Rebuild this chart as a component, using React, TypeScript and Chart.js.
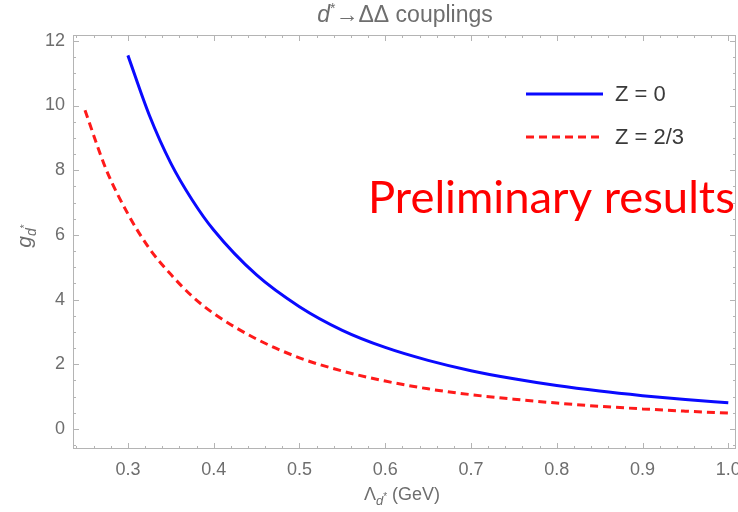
import React, { useEffect, useRef } from "react";
import { Chart, registerables } from "chart.js";

Chart.register(...registerables);

// ---- data ----
const blueX = [0.3, 0.325, 0.35, 0.375, 0.4, 0.45, 0.5, 0.55, 0.6, 0.65, 0.7, 0.75, 0.8, 0.85, 0.9, 0.95, 1.0];
const blueY = [11.55, 9.7, 8.22, 7.08, 6.15, 4.76, 3.78, 3.05, 2.52, 2.12, 1.8, 1.55, 1.34, 1.17, 1.03, 0.91, 0.81];
const redX = [0.25, 0.275, 0.3, 0.325, 0.35, 0.375, 0.4, 0.45, 0.5, 0.55, 0.6, 0.65, 0.7, 0.75, 0.8, 0.85, 0.9, 0.95, 1.0];
const redY = [9.85, 8.0, 6.65, 5.58, 4.78, 4.1, 3.57, 2.78, 2.2, 1.79, 1.48, 1.24, 1.06, 0.92, 0.8, 0.7, 0.62, 0.55, 0.49];
const xTicks = [0.3, 0.4, 0.5, 0.6, 0.7, 0.8, 0.9, 1.0];
const yTicks = [0, 2, 4, 6, 8, 10, 12];
const seriesLabels = ["Z = 0", "Z = 2/3"];
const titleParts = ["d", "*", "\u2192\u0394\u0394 couplings"];
const xTitleParts = ["\u039B", "d", "*", " (GeV)"];
const yTitleParts = ["g", "d", "*"];
const stampText = "Preliminary results";

const FRAME = "#b4b4b4";
const TXT = "#6e6e6e";
const FONT = "'Liberation Sans', Arial, sans-serif";

type Seg = { t: string; size: number; dy: number; italic?: boolean };

function drawRich(ctx: CanvasRenderingContext2D, segs: Seg[], cx: number, cy: number, color: string) {
  let total = 0;
  for (const s of segs) {
    ctx.font = `${s.italic ? "italic " : ""}${s.size}px ${FONT}`;
    total += ctx.measureText(s.t).width;
  }
  let x = cx - total / 2;
  ctx.fillStyle = color;
  ctx.textBaseline = "alphabetic";
  ctx.textAlign = "left";
  for (const s of segs) {
    ctx.font = `${s.italic ? "italic " : ""}${s.size}px ${FONT}`;
    ctx.fillText(s.t, x, cy + s.dy);
    x += ctx.measureText(s.t).width;
  }
}

const decorPlugin = {
  id: "decor",
  beforeDatasetsDraw(chart: any) {
    const { ctx, chartArea: a, scales } = chart;
    const xs = scales.x;
    const ys = scales.y;
    ctx.save();
    ctx.strokeStyle = FRAME;
    ctx.lineWidth = 1;
    ctx.strokeRect(a.left + 0.5, a.top + 0.5, a.right - a.left - 1, a.bottom - a.top - 1);
    ctx.beginPath();
    // x ticks (bottom & top), minor every 0.02
    for (let i = 12; i <= 51; i++) {
      const v = i / 50;
      const px = Math.round(xs.getPixelForValue(v)) + 0.5;
      if (px < a.left || px > a.right) continue;
      const major = i % 5 === 0;
      const len = major ? 6 : 3;
      ctx.moveTo(px, a.bottom);
      ctx.lineTo(px, a.bottom - len);
      ctx.moveTo(px, a.top);
      ctx.lineTo(px, a.top + len);
    }
    // y ticks (left & right), minor every 0.5
    for (let i = -1; i <= 24; i++) {
      const v = i / 2;
      const py = Math.round(ys.getPixelForValue(v)) + 0.5;
      if (py < a.top || py > a.bottom) continue;
      const major = i % 4 === 0;
      const len = major ? 6 : 3;
      ctx.moveTo(a.left, py);
      ctx.lineTo(a.left + len, py);
      ctx.moveTo(a.right, py);
      ctx.lineTo(a.right - len, py);
    }
    ctx.stroke();
    ctx.restore();
  },
  afterDraw(chart: any) {
    const { ctx } = chart;
    ctx.save();
    // title
    drawRich(
      ctx,
      [
        { t: titleParts[0], size: 23, dy: 0, italic: true },
        { t: titleParts[1], size: 14, dy: -9 },
        { t: titleParts[2], size: 23, dy: 0 },
      ],
      405,
      22,
      TXT
    );
    // x title
    drawRich(
      ctx,
      [
        { t: xTitleParts[0], size: 18, dy: 0 },
        { t: xTitleParts[1], size: 13, dy: 5, italic: true },
        { t: xTitleParts[2], size: 10, dy: 0 },
        { t: xTitleParts[3], size: 18, dy: 0 },
      ],
      402,
      500,
      TXT
    );
    // y title (rotated)
    ctx.save();
    ctx.translate(31, 236);
    ctx.rotate(-Math.PI / 2);
    drawRich(
      ctx,
      [
        { t: yTitleParts[0], size: 21, dy: 0, italic: true },
        { t: yTitleParts[1], size: 14, dy: 5, italic: true },
        { t: yTitleParts[2], size: 10, dy: -3 },
      ],
      0,
      0,
      TXT
    );
    ctx.restore();
    // legend
    const ly = [94, 137];
    const colors = ["#0a0aff", "#ff1a1a"];
    for (let i = 0; i < 2; i++) {
      ctx.beginPath();
      ctx.strokeStyle = colors[i];
      ctx.lineWidth = 3;
      ctx.setLineDash(i === 1 ? [8, 5] : []);
      ctx.moveTo(526, ly[i]);
      ctx.lineTo(603, ly[i]);
      ctx.stroke();
      ctx.setLineDash([]);
      ctx.fillStyle = "#3a3a3a";
      ctx.font = `22px ${FONT}`;
      ctx.textAlign = "left";
      ctx.textBaseline = "middle";
      ctx.fillText(seriesLabels[i], 615, ly[i] + 1);
    }
    // stamp
    ctx.fillStyle = "#ff0000";
    ctx.font = `38px Lato, 'Open Sans', sans-serif`;
    ctx.textAlign = "left";
    ctx.textBaseline = "alphabetic";
    const w = ctx.measureText(stampText).width;
    const target = 367;
    const fs = 38 * (target / w);
    ctx.font = `${fs.toFixed(1)}px Lato, 'Open Sans', sans-serif`;
    ctx.fillText(stampText, 368, 213);
    ctx.restore();
  },
};

export default function App() {
  const ref = useRef<HTMLCanvasElement | null>(null);
  useEffect(() => {
    if (!ref.current) return;
    const chart = new Chart(ref.current, {
      type: "line",
      data: {
        datasets: [
          {
            label: seriesLabels[0],
            data: blueX.map((x, i) => ({ x, y: blueY[i] })),
            borderColor: "#0a0aff",
            borderWidth: 3,
            pointRadius: 0,
            cubicInterpolationMode: "monotone",
            fill: false,
          },
          {
            label: seriesLabels[1],
            data: redX.map((x, i) => ({ x, y: redY[i] })),
            borderColor: "#ff1a1a",
            borderWidth: 3,
            borderDash: [8, 5],
            pointRadius: 0,
            cubicInterpolationMode: "monotone",
            fill: false,
          },
        ],
      },
      options: {
        animation: false,
        responsive: false,
        devicePixelRatio: 1,
        layout: { padding: { top: 35, right: 2, left: 0, bottom: 0 } },
        plugins: { legend: { display: false }, title: { display: false }, tooltip: { enabled: false } },
        scales: {
          x: {
            type: "linear",
            min: 0.236,
            max: 1.009,
            grid: { display: false, drawTicks: false },
            border: { display: false },
            afterBuildTicks: (axis: any) => {
              axis.ticks = xTicks.map((v) => ({ value: v }));
            },
            afterFit: (axis: any) => {
              axis.height = 63;
              axis.paddingLeft = 0;
              axis.paddingRight = 0;
            },
            ticks: {
              autoSkip: false,
              maxRotation: 0,
              padding: 10,
              color: TXT,
              font: { family: FONT, size: 18 },
              callback: (v: any) => Number(v).toFixed(1),
            },
          },
          y: {
            type: "linear",
            min: -0.62,
            max: 12.18,
            grid: { display: false, drawTicks: false },
            border: { display: false },
            afterBuildTicks: (axis: any) => {
              axis.ticks = yTicks.map((v) => ({ value: v }));
            },
            afterFit: (axis: any) => {
              axis.width = 73;
              axis.paddingTop = 0;
              axis.paddingBottom = 0;
            },
            ticks: {
              autoSkip: false,
              padding: 8,
              color: TXT,
              font: { family: FONT, size: 18 },
              callback: (v: any) => String(v),
            },
          },
        },
      },
      plugins: [decorPlugin],
    } as any);
    return () => chart.destroy();
  }, []);
  return (
    <div style={{ position: "absolute", left: 0, top: 0, width: 738, height: 512, background: "#fff" }}>
      <canvas ref={ref} width={738} height={512} />
    </div>
  );
}
